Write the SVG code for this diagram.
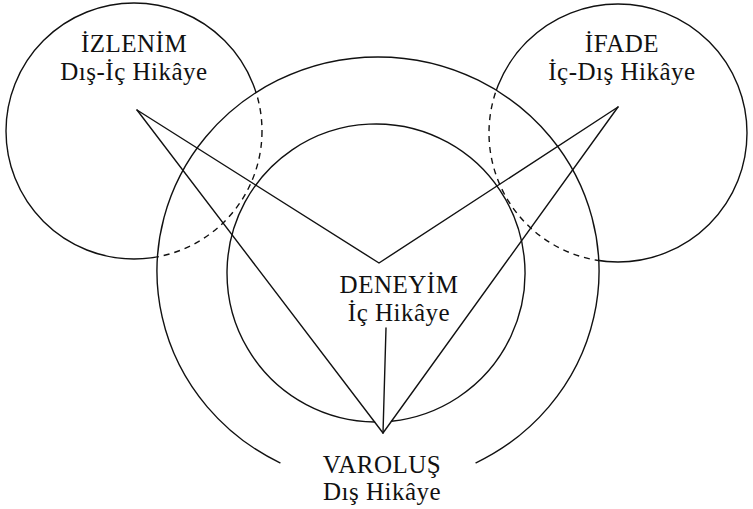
<svg xmlns="http://www.w3.org/2000/svg" width="753" height="509" viewBox="0 0 753 509">
  <style>
    .ln { fill: none; stroke: #111; stroke-width: 1.4; stroke-linecap: round; stroke-linejoin: miter; }
    .dash { fill: none; stroke: #111; stroke-width: 1.4; stroke-dasharray: 6 5; }
    .lbl { font-family: "Liberation Serif", "Times New Roman", serif; font-size: 25px; letter-spacing: 0.5px; fill: #111; text-anchor: middle; }
  </style>
  <defs>
    <clipPath id="inOuter">
      <ellipse cx="378" cy="271" rx="221" ry="214"/>
    </clipPath>
    <clipPath id="outOuter">
      <path clip-rule="evenodd" d="M0 0H753V509H0Z M157 271 A221 214 0 1 0 599 271 A221 214 0 1 0 157 271Z"/>
    </clipPath>
  </defs>
  <rect width="753" height="509" fill="#fff"/>

  <g id="node-varolus">
    <path class="ln" d="M280 462.8 A221 214 0 1 1 476 462.8"/>
    <text class="lbl" x="382" y="473">VAROLUŞ</text>
    <text class="lbl" x="382" y="500">Dış Hikâye</text>
  </g>

  <g id="node-deneyim">
    <path class="ln" d="M374.6 422 A149 149 0 1 1 391.5 421.2"/>
    <text class="lbl" x="399" y="293">DENEYİM</text>
    <text class="lbl" x="399" y="321">İç Hikâye</text>
  </g>

  <g id="node-izlenim">
    <circle class="ln" cx="134" cy="131" r="128" clip-path="url(#outOuter)"/>
    <circle class="dash" cx="134" cy="131" r="128" clip-path="url(#inOuter)"/>
    <text class="lbl" x="134" y="52">İZLENİM</text>
    <text class="lbl" x="134" y="80">Dış-İç Hikâye</text>
  </g>

  <g id="node-ifade">
    <circle class="ln" cx="618" cy="133" r="129" clip-path="url(#outOuter)"/>
    <circle class="dash" cx="618" cy="133" r="129" clip-path="url(#inOuter)"/>
    <text class="lbl" x="622" y="52">İFADE</text>
    <text class="lbl" x="622" y="80">İç-Dış Hikâye</text>
  </g>

  <g id="connectors">
    <polyline class="ln" points="137,110 379,263 618,107"/>
    <polyline class="ln" points="137,110 383,433 618,107"/>
    <line class="ln" x1="386" y1="328" x2="383" y2="433"/>
  </g>
</svg>
